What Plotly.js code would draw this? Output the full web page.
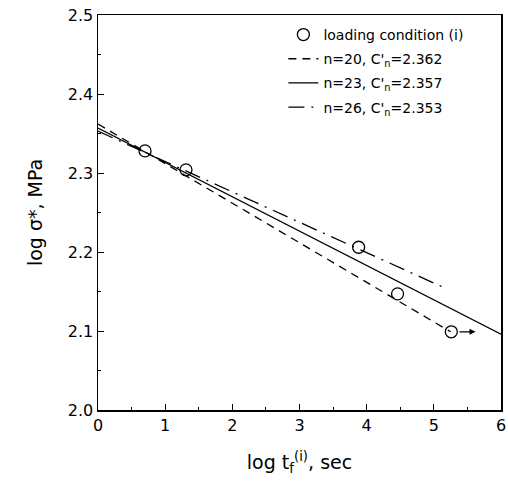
<!DOCTYPE html>
<html>
<head>
<meta charset="utf-8">
<script src="https://cdn.plot.ly/plotly-3.0.1.min.js"></script>
<style>html,body{margin:0;padding:0;background:#fff;}#chart{width:508px;height:491px;}</style>
</head>
<body>
<div id="chart"></div>
<script>
// Experimental points, loading condition (i)
const logT = [0.70, 1.31, 3.88, 4.46, 5.26];
const logSigma = [2.328, 2.304, 2.206, 2.147, 2.099];

// Fitted lines (endpoints)
const lineN20X = [0, 5.25];
const lineN20Y = [2.362, 2.099];
const lineN23X = [0, 6];
const lineN23Y = [2.357, 2.096];
const lineN26X = [0, 5.2];
const lineN26Y = [2.353, 2.153];

const legendNames = [
  'loading condition (i)',
  'n=20, C\'<sub>n</sub>=2.362',
  'n=23, C\'<sub>n</sub>=2.357',
  'n=26, C\'<sub>n</sub>=2.353'
];

const font = 'DejaVu Sans, Liberation Sans, sans-serif';

const traces = [
  {x: logT, y: logSigma, mode: 'markers', name: legendNames[0], legendgroup: 'g1',
   marker: {symbol: 'circle-open', size: 12, color: '#000', line: {width: 1.3, color: '#000'}}},
  {x: lineN20X, y: lineN20Y, mode: 'lines', name: legendNames[1], legendgroup: 'g2',
   line: {color: '#000', width: 1.3, dash: '8px,6px'}},
  {x: lineN23X, y: lineN23Y, mode: 'lines', name: legendNames[2], legendgroup: 'g3',
   line: {color: '#000', width: 1.3}},
  {x: lineN26X, y: lineN26Y, mode: 'lines', name: legendNames[3], legendgroup: 'g4',
   line: {color: '#000', width: 1.3, dash: '16px,7px,2px,7px'}}
];

const layout = {
  width: 508, height: 491,
  margin: {l: 98, r: 7, t: 15, b: 81},
  paper_bgcolor: '#fff', plot_bgcolor: '#fff',
  font: {family: font, color: '#000', size: 15},
  showlegend: true,
  legend: {x: 0.46, y: 0.99, xanchor: 'left', yanchor: 'top',
           bgcolor: 'rgba(0,0,0,0)', font: {size: 14, family: font},
           tracegroupgap: 3, itemwidth: 30},
  xaxis: {range: [0, 6], dtick: 1, tick0: 0, showgrid: false, zeroline: false,
          showline: true, linecolor: '#000', linewidth: 1.5, mirror: true,
          ticks: 'inside', ticklen: 6, tickcolor: '#000',
          minor: {dtick: 0.5, ticks: 'inside', ticklen: 3, tickcolor: '#000'},
          tickfont: {size: 16}, tickformat: 'd',
          title: {text: 'log t<sub>f</sub><sup>(i)</sup>, sec', font: {size: 19}, standoff: 22}},
  yaxis: {range: [2.0, 2.5], dtick: 0.1, tick0: 2.0, showgrid: false, zeroline: false,
          showline: true, linecolor: '#000', linewidth: 1.5, mirror: true,
          ticks: 'inside', ticklen: 6, tickcolor: '#000',
          minor: {dtick: 0.05, ticks: 'inside', ticklen: 3, tickcolor: '#000'},
          tickfont: {size: 16}, tickformat: '.1f',
          title: {text: 'log σ*, MPa', font: {size: 19}, standoff: 20}},
  annotations: [
    {x: 5.62, y: 2.099, ax: 5.36, ay: 2.099, xref: 'x', yref: 'y', axref: 'x', ayref: 'y',
     text: '', showarrow: true, arrowhead: 2, arrowsize: 1, arrowwidth: 1.2, arrowcolor: '#000'}
  ]
};

Plotly.newPlot('chart', traces, layout, {displayModeBar: false, staticPlot: true});
</script>
</body>
</html>
